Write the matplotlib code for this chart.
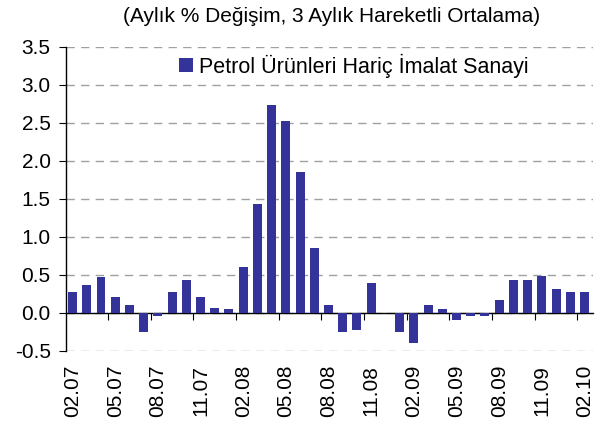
import numpy as np
import matplotlib
matplotlib.use('Agg')
import matplotlib.pyplot as plt

plt.rcParams['font.family'] = ['Liberation Sans', 'DejaVu Sans']

# Monthly data, 02.07 - 02.10
months = ['02.07', '03.07', '04.07', '05.07', '06.07', '07.07', '08.07', '09.07', '10.07',
          '11.07', '12.07', '01.08', '02.08', '03.08', '04.08', '05.08', '06.08', '07.08',
          '08.08', '09.08', '10.08', '11.08', '12.08', '01.09', '02.09', '03.09', '04.09',
          '05.09', '06.09', '07.09', '08.09', '09.09', '10.09', '11.09', '12.09', '01.10',
          '02.10']
values = [0.27, 0.37, 0.48, 0.21, 0.11, -0.25, -0.035, 0.27, 0.44, 0.21,
          0.07, 0.057, 0.60, 1.44, 2.74, 2.53, 1.86, 0.85, 0.11, -0.25,
          -0.22, 0.39, 0.0, -0.25, -0.40, 0.11, 0.057, -0.09, -0.035, -0.035,
          0.175, 0.43, 0.44, 0.49, 0.32, 0.28, 0.28]
yticks = [-0.5, 0.0, 0.5, 1.0, 1.5, 2.0, 2.5, 3.0, 3.5]
series_name = 'Petrol Ürünleri Hariç İmalat Sanayi'
title = '(Aylık % Değişim, 3 Aylık Hareketli Ortalama)'

x = np.arange(len(months))

fig = plt.figure(figsize=(6.01, 4.26), dpi=100)
ax = fig.add_axes([66 / 601, 1 - 351 / 426, 527 / 601, 304 / 426])

ax.bar(x, values, width=0.63, color='#333399', label=series_name, zorder=3)

ax.set_ylim(-0.5, 3.5)
ax.set_xlim(-0.46, 36.6)
ax.set_yticks(yticks)
ax.set_yticklabels([f'{v:.1f}' for v in yticks], fontsize=15)
ax.yaxis.grid(True, linestyle=(0, (6, 4.5)), color='#a0a0a0', linewidth=1, zorder=0)
ax.tick_params(axis='y', direction='out', length=5, width=0.8, pad=6)

ax.spines['top'].set_visible(False)
ax.spines['right'].set_visible(False)
ax.spines['left'].set_linewidth(1)
ax.spines['bottom'].set_position(('data', 0))
ax.spines['bottom'].set_linewidth(1)

# tick marks on zero line between quarters
ax.set_xticks(np.arange(2.5, len(months), 3))
ax.tick_params(axis='x', direction='out', length=5, width=0.8, labelbottom=False)

# date labels at bottom of axes
sec = ax.secondary_xaxis(location=0)
sec.set_xticks(x[::3])
sec.set_xticklabels(months[::3], rotation=90, fontsize=15)
sec.tick_params(length=0, pad=10)
sec.spines['bottom'].set_visible(False)

ax.legend(loc='upper left', bbox_to_anchor=(0.214, 0.978), frameon=False,
          fontsize=15.5, handlelength=0.65, handleheight=0.65, handletextpad=0.3,
          borderaxespad=0, borderpad=0)

fig.text(0.551, 1 - 17 / 426, title, ha='center', va='center', fontsize=15)

fig.savefig('out.png', dpi=100)
